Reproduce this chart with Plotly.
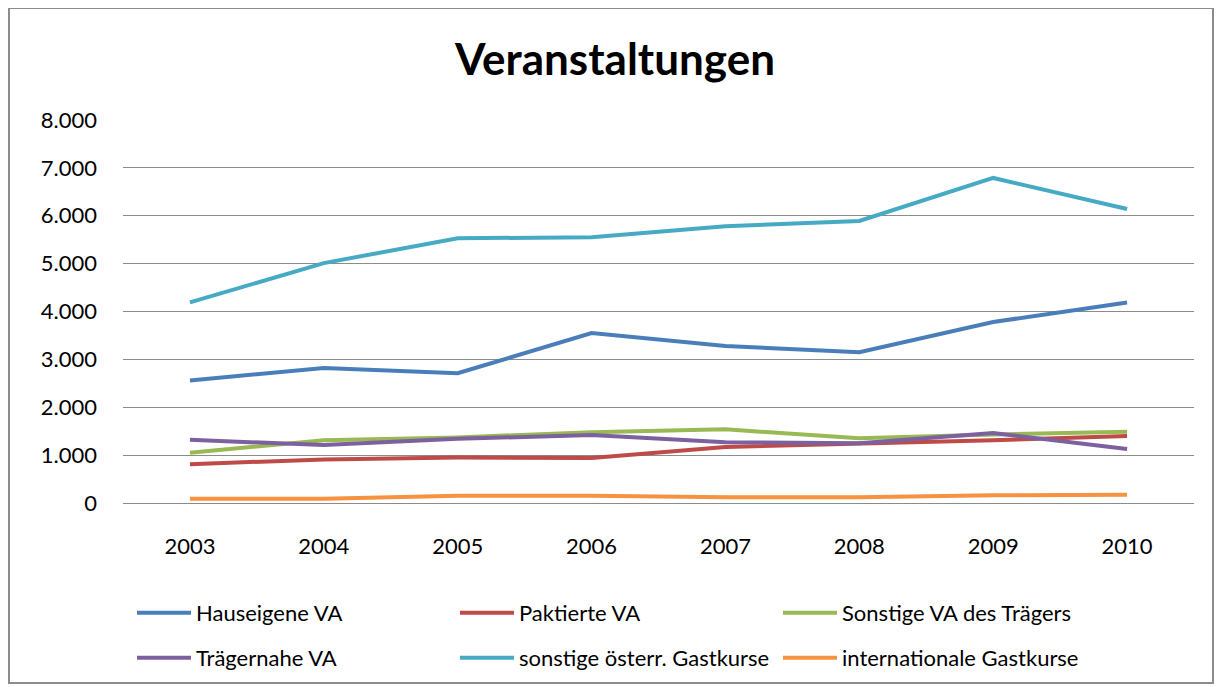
import plotly.graph_objects as go

years = ["2003", "2004", "2005", "2006", "2007", "2008", "2009", "2010"]
hauseigene = [2560, 2820, 2710, 3550, 3280, 3150, 3780, 4190]
paktierte = [810, 910, 950, 940, 1170, 1230, 1310, 1400]
sonstige_traeger = [1050, 1310, 1370, 1480, 1540, 1350, 1430, 1490]
traegernahe = [1320, 1210, 1340, 1420, 1270, 1250, 1460, 1130]
sonstige_oesterr = [4190, 5010, 5530, 5550, 5780, 5890, 6790, 6140]
international = [90, 90, 150, 150, 120, 120, 160, 170]

series = [
    ("Hauseigene VA", hauseigene, "#4A7EBB", "legend"),
    ("Paktierte VA", paktierte, "#BE4B48", "legend"),
    ("Sonstige VA des Trägers", sonstige_traeger, "#98B954", "legend"),
    ("Trägernahe VA", traegernahe, "#7D60A0", "legend2"),
    ("sonstige österr. Gastkurse", sonstige_oesterr, "#46AAC5", "legend2"),
    ("internationale Gastkurse", international, "#F69240", "legend2"),
]

fig = go.Figure()
for name, vals, color, lg in series:
    fig.add_trace(go.Scatter(x=years, y=vals, name=name, mode="lines",
                             line=dict(color=color, width=4), legend=lg))

FONT = "Lato, 'Open Sans', sans-serif"
OFF = 8  # page body margin offset
W, H = 1222 - OFF, 687 - OFF
# plot area in page pixel coordinates
PL, PR, PT, PB = 123, 1194, 120, 503
L, T = PL - OFF, PT - OFF
R, B = W - (PR - OFF), H - (PB - OFF)
pw, ph = PR - PL, PB - PT

def px(x):
    return (x - PL) / pw

def py(y):
    return (PB - y) / ph

legend_common = dict(orientation="h", x=px(132), xanchor="left",
                     yanchor="middle", entrywidth=254, entrywidthmode="pixels",
                     font=dict(size=22, family=FONT, color="#000000"),
                     bgcolor="rgba(0,0,0,0)", itemwidth=54)

fig.update_layout(
    width=W, height=H,
    margin=dict(l=L, r=R, t=T, b=B, autoexpand=False),
    paper_bgcolor="white", plot_bgcolor="white",
    separators=",.",
    font=dict(family=FONT, color="#000000"),
    title=dict(text="<b>Veranstaltungen</b>", x=(615 - OFF) / W, xanchor="center",
               y=1 - (60 - OFF) / H, yanchor="middle",
               font=dict(size=44, family=FONT, color="#000000")),
    xaxis=dict(type="category", range=[-0.5, 7.5], showgrid=False,
               showline=False, zeroline=False, ticks="",
               tickfont=dict(size=22, family=FONT, color="#000000"),
               ticklabelstandoff=28),
    yaxis=dict(range=[0, 8000], dtick=1000, tickformat=",d",
               showgrid=True, gridcolor="#8C8C8C", gridwidth=1,
               zeroline=True, zerolinecolor="#8C8C8C", zerolinewidth=1,
               showline=False, ticks="",
               tickfont=dict(size=22, family=FONT, color="#000000"),
               ticklabelstandoff=25),
    legend=dict(legend_common, y=py(613)),
    legend2=dict(legend_common, y=py(658)),
    shapes=[dict(type="rect", xref="paper", yref="paper",
                 x0=px(9), x1=px(1213), y0=py(683), y1=py(8),
                 line=dict(color="#8C8C8C", width=2), layer="below")],
    showlegend=True,
)

fig.write_html("out.html")
